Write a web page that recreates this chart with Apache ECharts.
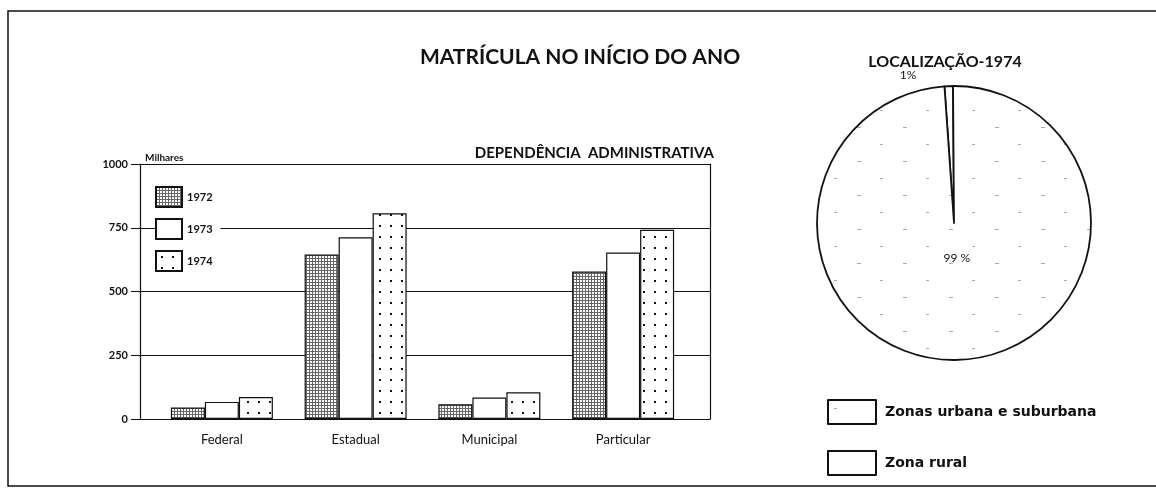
<!DOCTYPE html>
<html>
<head>
<meta charset="utf-8">
<script src="https://cdn.jsdelivr.net/npm/echarts@6/dist/echarts.min.js"></script>
<style>
  html, body { margin: 0; padding: 0; background: #fff; }
  #chart { width: 1156px; height: 488px; }
</style>
</head>
<body>
<div id="chart"></div>
<script>
// bar chart data (milhares)
const categories = ["Federal", "Estadual", "Municipal", "Particular"];
const years = ["1972", "1973", "1974"];
const values1972 = [45, 645, 58, 578];
const values1973 = [67, 713, 84, 653];
const values1974 = [86, 807, 105, 742];
const yTicks = [0, 250, 500, 750, 1000];

// pie data (%)
const pieNames = ["Zona rural", "Zonas urbana e suburbana"];
const pieValues = [1, 99];

const font = "Lato";

function makePattern(w, h, draw) {
  const c = document.createElement("canvas");
  c.width = w;
  c.height = h;
  const g = c.getContext("2d");
  g.fillStyle = "#fff";
  g.fillRect(0, 0, w, h);
  g.fillStyle = "#111";
  draw(g);
  return { image: c, repeat: "repeat" };
}

// grey screen
const hatch = makePattern(3, 3, g => {
  g.fillStyle = "#666";
  g.fillRect(0, 0, 3, 1);
  g.fillRect(0, 0, 1, 3);
});
// white with dots
const dots = makePattern(11, 11, g => {
  g.fillRect(5, 5, 2, 2);
});
const plain = "#fff";
// very sparse specks for the pie
const specks = makePattern(46, 34, g => {
  g.fillStyle = "#aaa";
  g.fillRect(6, 8, 3, 1);
  g.fillRect(29, 25, 4, 1);
});

const barFills = [hatch, plain, dots];
const barData = [values1972, values1973, values1974];

const chart = echarts.init(document.getElementById("chart"));

const option = {
  backgroundColor: "#fff",
  animation: false,
  textStyle: { fontFamily: font, color: "#111" },
  title: [
    {
      text: "MATRÍCULA NO INÍCIO DO ANO",
      left: 575, top: 42, textAlign: "center",
      textStyle: { fontFamily: font, fontSize: 21, fontWeight: "bold", color: "#111" }
    },
    {
      text: "DEPENDÊNCIA  ADMINISTRATIVA",
      left: 709, top: 141, textAlign: "right",
      textStyle: { fontFamily: font, fontSize: 15, fontWeight: "bold", color: "#111" }
    },
    {
      text: "Milhares",
      left: 140, top: 148,
      textStyle: { fontFamily: font, fontSize: 10, fontWeight: "bold", color: "#111" }
    },
    {
      text: "LOCALIZAÇÃO-1974",
      left: 940, top: 49, textAlign: "center",
      textStyle: { fontFamily: font, fontSize: 16, fontWeight: "bold", color: "#111" }
    }
  ],
  graphic: [
    {
      type: "rect",
      shape: { x: 8, y: 11, width: 1160, height: 475 },
      style: { fill: null, stroke: "#111", lineWidth: 1.5 },
      silent: true
    }
  ],
  legend: [
    {
      data: years,
      orient: "vertical",
      left: 155, top: 184,
      itemWidth: 26, itemHeight: 20, itemGap: 10,
      backgroundColor: "#fff",
      padding: [2, 8, 2, 0],
      icon: "rect",
      textStyle: { fontFamily: font, fontSize: 11, fontWeight: "bold", color: "#111" }
    },
    {
      data: ["Zonas urbana e suburbana", "Zona rural"],
      orient: "vertical",
      left: 822, top: 394,
      itemWidth: 48, itemHeight: 24, itemGap: 25,
      icon: "rect",
      textStyle: { fontFamily: "DejaVu Sans", fontSize: 14, fontWeight: "bold", color: "#111", padding: [0, 0, 0, 4] }
    }
  ],
  grid: [
    { left: 140, right: 446, top: 164, bottom: 69 },
    { left: 155, right: 466, top: 164, bottom: 69 }
  ],
  xAxis: [
    {
      gridIndex: 0, type: "value", min: 0, max: 1,
      axisLine: { show: true, lineStyle: { color: "#111", width: 1.2 } },
      axisTick: { show: false }, axisLabel: { show: false }, splitLine: { show: false }
    },
    {
      gridIndex: 1, type: "category", data: categories,
      axisLine: { show: false }, axisTick: { show: false },
      axisLabel: { fontFamily: font, fontSize: 13, color: "#111", margin: 14 }
    }
  ],
  yAxis: [
    {
      gridIndex: 0, type: "value", min: 0, max: 1000, interval: 250,
      axisLine: { show: true, lineStyle: { color: "#111", width: 1.2 } },
      axisTick: { show: true, length: 9, lineStyle: { color: "#111" } },
      axisLabel: {
        fontFamily: font, fontSize: 11, fontWeight: "bold", color: "#111", margin: 12,
        customValues: yTicks,
        formatter: v => String(v)
      },
      splitLine: { show: true, lineStyle: { color: "#111", width: 1.2 } }
    },
    {
      gridIndex: 0, type: "value", min: 0, max: 1000, position: "right",
      axisLine: { show: true, lineStyle: { color: "#111", width: 1.2 } },
      axisTick: { show: false }, axisLabel: { show: false }, splitLine: { show: false }
    },
    {
      gridIndex: 1, type: "value", min: 0, max: 1000, show: false
    }
  ],
  series: [
    ...years.map((y, i) => ({
      name: y,
      type: "bar",
      xAxisIndex: 1,
      yAxisIndex: 2,
      data: barData[i],
      barWidth: 34,
      barGap: "0%",
      itemStyle: { color: barFills[i], borderColor: "#111", borderWidth: 1.2 }
    })),
    {
      type: "pie",
      center: [954, 223],
      radius: 137,
      startAngle: 94,
      clockwise: true,
      data: pieNames.map((n, i) => ({
        name: n,
        value: pieValues[i],
        itemStyle: { color: i === 0 ? plain : specks }
      })),
      itemStyle: { borderColor: "#111", borderWidth: 1.8 },
      label: {
        show: true,
        fontFamily: font,
        fontSize: 12,
        color: "#111",
        formatter: p => p.dataIndex === 0 ? p.value + "%" : p.value + " %",
        position: "inside"
      },
      labelLine: { show: false },
      labelLayout: p => p.dataIndex === 0 ? { x: 908, y: 75 } : { dy: -36 }
    }
  ]
};

chart.setOption(option);
</script>
</body>
</html>
